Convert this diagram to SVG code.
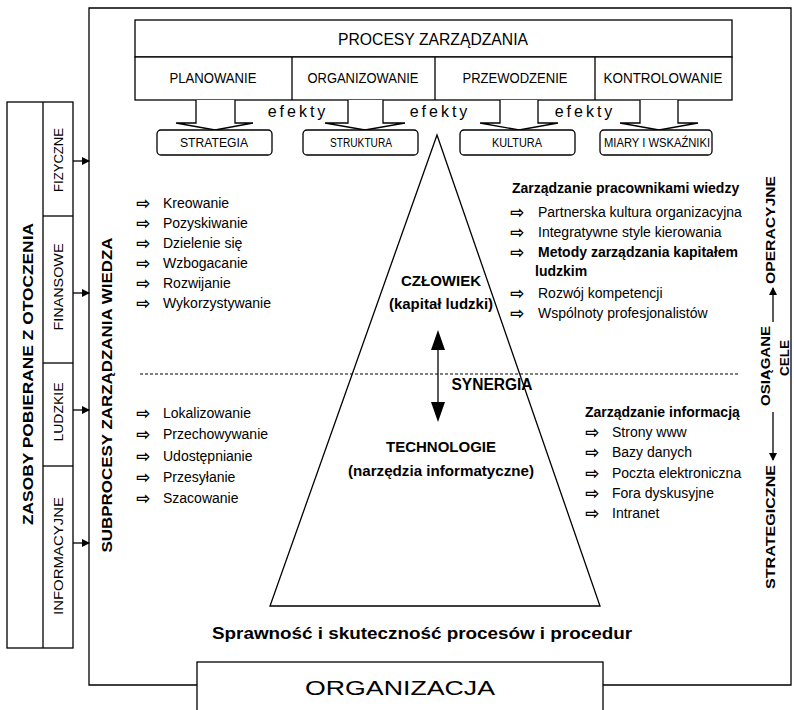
<svg xmlns="http://www.w3.org/2000/svg" width="794" height="710" viewBox="0 0 794 710">
<defs>
<style>
.ln{fill:none;stroke:#000;stroke-width:1.3}
.box{fill:#fff;stroke:#000;stroke-width:1.3}
.t{font-family:"Liberation Sans",Arial,sans-serif;fill:#000}
.b{font-weight:bold}
.m{text-anchor:middle}
.bul{font-family:"DejaVu Sans",sans-serif;font-size:17px;font-weight:bold;fill:#000}
.li{font-family:"Liberation Sans",Arial,sans-serif;font-size:14px;fill:#000}
.ef{font-family:"Liberation Sans",Arial,sans-serif;font-size:16px;letter-spacing:3px;fill:#000}
</style>
<marker id="ah" markerWidth="8" markerHeight="8" refX="7" refY="4" orient="auto" markerUnits="userSpaceOnUse">
<path d="M0,0 L8,4 L0,8 Z" fill="#000"/>
</marker>
</defs>
<rect width="794" height="710" fill="#fff"/>

<g id="frame">
<path class="ln" d="M197,685 H89 V8 H791 V685 H603"/>
</g>

<g id="procesy">
<rect class="box" x="135" y="20" width="597" height="37"/>
<text class="t m" x="433" y="45" font-size="16" textLength="190" lengthAdjust="spacingAndGlyphs">PROCESY ZARZĄDZANIA</text>
<rect class="box" x="135" y="57" width="597" height="43"/>
<line class="ln" x1="292" y1="57" x2="292" y2="100"/>
<line class="ln" x1="435" y1="57" x2="435" y2="100"/>
<line class="ln" x1="595" y1="57" x2="595" y2="100"/>
<text class="t m" x="213" y="83" font-size="14" textLength="87" lengthAdjust="spacingAndGlyphs">PLANOWANIE</text>
<text class="t m" x="363" y="83" font-size="14" textLength="111" lengthAdjust="spacingAndGlyphs">ORGANIZOWANIE</text>
<text class="t m" x="515" y="83" font-size="14" textLength="105" lengthAdjust="spacingAndGlyphs">PRZEWODZENIE</text>
<text class="t m" x="663" y="83" font-size="14" textLength="119" lengthAdjust="spacingAndGlyphs">KONTROLOWANIE</text>
</g>

<g id="connectors">
<polyline class="box" points="196,100 196,123 176,123 215,130 253,123 235,123 235,100"/>
<polyline class="box" points="348,100 348,123 325,123 365,130 405,123 383,123 383,100"/>
<polyline class="box" points="500,100 500,123 480,123 519,130 558,123 538,123 538,100"/>
<polyline class="box" points="640,100 640,123 620,123 659,130 698,123 678,123 678,100"/>
<line class="ln" x1="73" y1="161" x2="89" y2="161" marker-end="url(#ah)"/>
<line class="ln" x1="73" y1="293" x2="89" y2="293" marker-end="url(#ah)"/>
<line class="ln" x1="73" y1="410" x2="89" y2="410" marker-end="url(#ah)"/>
<line class="ln" x1="73" y1="543" x2="89" y2="543" marker-end="url(#ah)"/>
<line class="ln" x1="438" y1="345" x2="438" y2="408"/>
<polygon points="438,330 431,350 445,350" fill="#000"/>
<polygon points="438,422 431,402 445,402" fill="#000"/>
<line class="ln" x1="773" y1="322" x2="773" y2="288" marker-end="url(#ah)"/>
<line class="ln" x1="773" y1="412" x2="773" y2="460" marker-end="url(#ah)"/>
</g>

<g id="efekty">
<text class="ef m" x="298" y="117">efekty</text>
<text class="ef m" x="440" y="117">efekty</text>
<text class="ef m" x="585" y="117">efekty</text>
</g>

<g id="strategia">
<rect class="box" x="157" y="130" width="115" height="25" rx="4"/>
<text class="t m" x="214" y="147" font-size="12" textLength="68" lengthAdjust="spacingAndGlyphs">STRATEGIA</text>
</g>
<g id="struktura">
<rect class="box" x="303" y="130" width="115" height="25" rx="4"/>
<text class="t m" x="361" y="147" font-size="12" textLength="62" lengthAdjust="spacingAndGlyphs">STRUKTURA</text>
</g>
<g id="kultura">
<rect class="box" x="460" y="130" width="115" height="25" rx="4"/>
<text class="t m" x="517" y="147" font-size="12" textLength="50" lengthAdjust="spacingAndGlyphs">KULTURA</text>
</g>
<g id="miary">
<rect class="box" x="600" y="130" width="112" height="25" rx="4"/>
<text class="t m" x="657" y="147" font-size="12" textLength="106" lengthAdjust="spacingAndGlyphs">MIARY I WSKAŹNIKI</text>
</g>

<g id="zasoby">
<rect class="box" x="7" y="102" width="66" height="546"/>
<line class="ln" x1="43" y1="102" x2="43" y2="648"/>
<line class="ln" x1="43" y1="216" x2="73" y2="216"/>
<line class="ln" x1="43" y1="363" x2="73" y2="363"/>
<line class="ln" x1="43" y1="466" x2="73" y2="466"/>
<text class="t b m" transform="translate(28,374) rotate(-90)" dy="5" font-size="14" textLength="302" lengthAdjust="spacingAndGlyphs">ZASOBY POBIERANE Z OTOCZENIA</text>
<text class="t m" transform="translate(58,160) rotate(-90)" dy="4.5" font-size="12" textLength="64" lengthAdjust="spacingAndGlyphs">FIZYCZNE</text>
<text class="t m" transform="translate(58,287) rotate(-90)" dy="4.5" font-size="12" textLength="87" lengthAdjust="spacingAndGlyphs">FINANSOWE</text>
<text class="t m" transform="translate(58,412) rotate(-90)" dy="4.5" font-size="12" textLength="59" lengthAdjust="spacingAndGlyphs">LUDZKIE</text>
<text class="t m" transform="translate(58,556) rotate(-90)" dy="4.5" font-size="12" textLength="118" lengthAdjust="spacingAndGlyphs">INFORMACYJNE</text>
</g>

<g id="subprocesy">
<text class="t b m" transform="translate(107,395) rotate(-90)" dy="5" font-size="14" textLength="315" lengthAdjust="spacingAndGlyphs">SUBPROCESY ZARZĄDZANIA WIEDZA</text>
</g>

<g id="lista-wiedza">
<text class="bul" x="136" y="209">⇨</text><text class="li" x="163" y="208">Kreowanie</text>
<text class="bul" x="136" y="229">⇨</text><text class="li" x="163" y="228">Pozyskiwanie</text>
<text class="bul" x="136" y="249">⇨</text><text class="li" x="163" y="248">Dzielenie się</text>
<text class="bul" x="136" y="269">⇨</text><text class="li" x="163" y="268">Wzbogacanie</text>
<text class="bul" x="136" y="289">⇨</text><text class="li" x="163" y="288">Rozwijanie</text>
<text class="bul" x="136" y="309">⇨</text><text class="li" x="163" y="308">Wykorzystywanie</text>
</g>

<g id="lista-info">
<text class="bul" x="136" y="419">⇨</text><text class="li" x="163" y="418">Lokalizowanie</text>
<text class="bul" x="136" y="440">⇨</text><text class="li" x="163" y="439">Przechowywanie</text>
<text class="bul" x="136" y="462">⇨</text><text class="li" x="163" y="461">Udostępnianie</text>
<text class="bul" x="136" y="483">⇨</text><text class="li" x="163" y="482">Przesyłanie</text>
<text class="bul" x="136" y="504">⇨</text><text class="li" x="163" y="503">Szacowanie</text>
</g>

<g id="pracownicy">
<text class="li b" x="512" y="193">Zarządzanie pracownikami wiedzy</text>
<text class="bul" x="510" y="218">⇨</text><text class="li" x="538" y="217">Partnerska kultura organizacyjna</text>
<text class="bul" x="510" y="238">⇨</text><text class="li" x="538" y="237">Integratywne style kierowania</text>
<text class="bul" x="510" y="258">⇨</text><text class="li b" x="538" y="257">Metody zarządzania kapitałem</text>
<text class="li b" x="535" y="276">ludzkim</text>
<text class="bul" x="510" y="299">⇨</text><text class="li" x="538" y="298">Rozwój kompetencji</text>
<text class="bul" x="510" y="319">⇨</text><text class="li" x="538" y="318">Wspólnoty profesjonalistów</text>
</g>

<g id="informacja">
<text class="li b" x="585" y="417">Zarządzanie informacją</text>
<text class="bul" x="585" y="438">⇨</text><text class="li" x="612" y="437">Strony www</text>
<text class="bul" x="585" y="458">⇨</text><text class="li" x="612" y="457">Bazy danych</text>
<text class="bul" x="585" y="479">⇨</text><text class="li" x="612" y="478">Poczta elektroniczna</text>
<text class="bul" x="585" y="499">⇨</text><text class="li" x="612" y="498">Fora dyskusyjne</text>
<text class="bul" x="585" y="519">⇨</text><text class="li" x="612" y="518">Intranet</text>
</g>

<g id="piramida">
<polygon class="ln" points="437,135 270,606 600,606"/>
<line x1="140" y1="374" x2="740" y2="374" stroke="#000" stroke-width="1" stroke-dasharray="3,2"/>
<text class="t b m" x="441" y="286" font-size="15">CZŁOWIEK</text>
<text class="t b m" x="441" y="309" font-size="15">(kapitał ludzki)</text>
<text class="t b m" x="492" y="390" font-size="16" textLength="81" lengthAdjust="spacingAndGlyphs">SYNERGIA</text>
<text class="t b m" x="441" y="452" font-size="15">TECHNOLOGIE</text>
<text class="t b m" x="441" y="476" font-size="15" textLength="186" lengthAdjust="spacingAndGlyphs">(narzędzia informatyczne)</text>
</g>

<g id="cele">
<text class="t b m" transform="translate(770,230) rotate(-90)" dy="5" font-size="13" textLength="108" lengthAdjust="spacingAndGlyphs">OPERACYJNE</text>
<text class="t b m" transform="translate(765,366) rotate(-90)" dy="5" font-size="13" textLength="80" lengthAdjust="spacingAndGlyphs">OSIĄGANE</text>
<text class="t b m" transform="translate(784,358) rotate(-90)" dy="5" font-size="13" textLength="36" lengthAdjust="spacingAndGlyphs">CELE</text>
<text class="t b m" transform="translate(770,527) rotate(-90)" dy="5" font-size="13" textLength="124" lengthAdjust="spacingAndGlyphs">STRATEGICZNE</text>
</g>

<g id="sprawnosc">
<text class="t b m" x="422" y="639" font-size="16" textLength="420" lengthAdjust="spacingAndGlyphs">Sprawność i skuteczność procesów i procedur</text>
</g>

<g id="organizacja">
<rect class="box" x="197" y="662" width="406" height="52"/>
<text class="t m" x="400" y="695" font-size="20" textLength="190" lengthAdjust="spacingAndGlyphs">ORGANIZACJA</text>
</g>
</svg>
